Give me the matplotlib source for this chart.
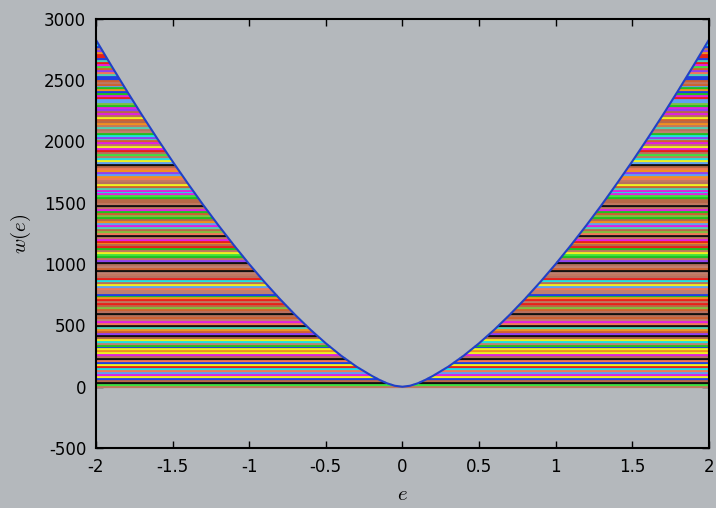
import numpy as np
import matplotlib
matplotlib.use("Agg")
import matplotlib.pyplot as plt

plt.rcParams["mathtext.fontset"] = "cm"
plt.rcParams["axes.unicode_minus"] = False

e_half = [0.0, 0.05, 0.1, 0.15, 0.2, 0.3, 0.4, 0.5, 0.6, 0.7, 0.8, 0.9, 1.0,
          1.1, 1.2, 1.3, 1.4, 1.5, 1.6, 1.7, 1.8, 1.9, 2.0]
w_half = [0, 8, 28, 56, 89, 164, 253, 354, 465, 586, 716, 854, 1000,
          1154, 1315, 1482, 1657, 1837, 2024, 2216, 2415, 2619, 2828]

xticks = [-2, -1.5, -1, -0.5, 0, 0.5, 1, 1.5, 2]
xticklabels = ["-2", "-1.5", "-1", "-0.5", "0", "0.5", "1", "1.5", "2"]
yticks = [-500, 0, 500, 1000, 1500, 2000, 2500, 3000]

stripe_colors = ["#e8201a", "#20c020", "#2040e0", "#e020e0", "#20e0e0",
                 "#b86848", "#f09020", "#f07858", "#f0f020", "#101010",
                 "#9040f0", "#60a0f0", "#40e040", "#c08070", "#b87058",
                 "#c07860", "#50d0b0", "#d06030", "#b87060", "#80c040"]
stripe_step = 16

bg = "#b4b8bc"


def mix(k):
    # integer hash, only used to scramble the stripe colour order
    k = ((k >> 16) ^ k) * 0x45d9f3b % 2**32
    k = ((k >> 16) ^ k) * 0x45d9f3b % 2**32
    return (k >> 16) ^ k


e_half = np.array(e_half)
w_half = np.array(w_half, dtype=float)
e_full = np.concatenate([-e_half[::-1], e_half[1:]])
w_full = np.concatenate([w_half[::-1], w_half[1:]])

fig = plt.figure(figsize=(7.16, 5.08), dpi=100, facecolor=bg)
ax = fig.add_axes([0.134, 0.118, 0.856, 0.845])
ax.set_facecolor(bg)

levels = np.arange(0, w_half[-1], stripe_step)
n = len(stripe_colors)
for i, y in enumerate(levels):
    xe = np.interp(y, w_half, e_half)
    c = stripe_colors[mix(i + 1) % n]
    ax.hlines(y, -2, -xe, color=c, lw=1.6, zorder=2)
    ax.hlines(y, xe, 2, color=c, lw=1.6, zorder=2)

ax.plot(e_full, w_full, color="#2040c8", lw=1.5, zorder=3)

ax.set_xlim(-2, 2)
ax.set_ylim(-500, 3000)
ax.set_xticks(xticks)
ax.set_xticklabels(xticklabels)
ax.set_yticks(yticks)
ax.tick_params(direction="in", length=5, width=1, top=True, right=True,
               labelsize=12, pad=7, colors="black")
for s in ax.spines.values():
    s.set_linewidth(1.5)
    s.set_zorder(4)

ax.set_xlabel(r"$e$", fontsize=15, labelpad=6)
ax.set_ylabel(r"$w(e)$", fontsize=15, labelpad=8)

fig.savefig("out.png", dpi=100, facecolor=bg)
